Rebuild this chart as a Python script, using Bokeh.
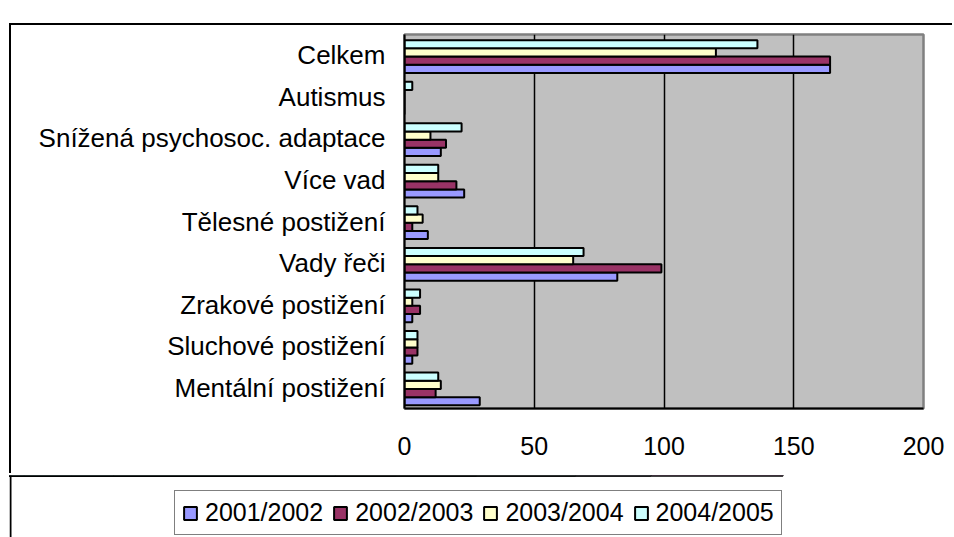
from bokeh.plotting import figure
from bokeh.layouts import column
from bokeh.models import (ColumnDataSource, FactorRange, FixedTicker, Legend,
                          LegendItem, Range1d, BoxAnnotation)
from bokeh.transform import dodge
from bokeh.embed import file_html
from bokeh.resources import INLINE

categories = ["Mentální postižení", "Sluchové postižení", "Zrakové postižení",
              "Vady řeči", "Tělesné postižení", "Více vad",
              "Snížená psychosoc. adaptace", "Autismus", "Celkem"]
years = ["2001/2002", "2002/2003", "2003/2004", "2004/2005"]
v2001 = [29, 3, 3, 82, 9, 23, 14, 0, 164]
v2002 = [12, 5, 6, 99, 3, 20, 16, 0, 164]
v2003 = [14, 5, 3, 65, 7, 13, 10, 0, 120]
v2004 = [13, 5, 6, 69, 5, 13, 22, 3, 136]
x_ticks = [0, 50, 100, 150, 200]

colors = ["#9999FF", "#993366", "#FFFFCC", "#CCFFFF"]
series = ["s0", "s1", "s2", "s3"]
FONT = "Liberation Sans"

src = ColumnDataSource(dict(cat=categories, s0=v2001, s1=v2002, s2=v2003, s3=v2004))

# ---- main chart ----
p = figure(width=943, height=450,
           y_range=FactorRange(factors=categories, range_padding=0),
           x_range=Range1d(0, 200),
           output_backend="svg", toolbar_location=None,
           min_border_left=393, min_border_right=31,
           min_border_top=9, min_border_bottom=67)
p.frame_align = False
# outer chart border (left and top edges) drawn as a CSS shadow
p.styles = {"box-shadow": "-2px -2px 0px 0px black"}

p.background_fill_color = "#C0C0C0"
p.border_fill_color = "white"
p.outline_line_color = "#808080"
p.outline_line_width = 2.5

bar_h = 0.197
center = -0.03
offsets = [center + k * bar_h for k in (-1.5, -0.5, 0.5, 1.5)]

for i, col in enumerate(series):
    p.hbar(y=dodge("cat", offsets[i], range=p.y_range), left=0, right=col,
           height=bar_h, fill_color=colors[i], line_color="black",
           line_width=2, source=src)

p.xaxis.ticker = FixedTicker(ticks=x_ticks)
for ax in (p.xaxis, p.yaxis):
    ax.major_tick_line_color = None
    ax.minor_tick_line_color = None
    ax.axis_line_color = "black"
    ax.axis_line_width = 2
    ax.major_label_text_font = FONT
    ax.major_label_text_color = "black"
p.xaxis.major_label_text_font_size = "25px"
p.yaxis.major_label_text_font_size = "26px"
p.xaxis.major_label_standoff = 22
p.yaxis.major_label_standoff = 13

p.xgrid.ticker = FixedTicker(ticks=[50, 100, 150])
p.xgrid.grid_line_color = "black"
p.xgrid.grid_line_width = 1.5
p.ygrid.grid_line_color = None

# ---- legend strip below the chart (its own frame spans the whole strip) ----
lg = figure(width=945, height=62, x_range=Range1d(0, 200), y_range=Range1d(0, 1),
            output_backend="svg", toolbar_location=None,
            x_axis_location=None, y_axis_location=None, min_border=0)
lg.frame_align = False
lg.styles = {"margin-left": "-2px"}
lg.background_fill_color = "white"
lg.border_fill_color = "white"
lg.outline_line_color = None
lg.grid.visible = False

# lower part of the outer chart border's left edge
lg.add_layout(BoxAnnotation(left=0, right=2, top=0, bottom=62,
                            left_units="canvas", right_units="canvas",
                            top_units="canvas", bottom_units="canvas",
                            fill_color="black", fill_alpha=1, line_color=None))

items = []
for i, col in enumerate(series):
    # same series, placed above this strip's y range: only the legend swatch shows
    r = lg.hbar(y=4, left=0, right=col, height=bar_h, fill_color=colors[i],
                line_color="black", line_width=2, source=src)
    items.append(LegendItem(label=years[i], renderers=[r]))

legend = Legend(items=items, orientation="horizontal", location=(165, 2),
                glyph_width=16, glyph_height=16, label_standoff=7, spacing=9,
                padding=7, margin=0,
                label_text_font=FONT, label_text_font_size="25px",
                label_text_color="black",
                border_line_color="black", border_line_width=1.5,
                background_fill_color="white", background_fill_alpha=1)
lg.add_layout(legend)

layout = column(p, lg, spacing=0,
                styles={"margin-left": "11px", "margin-top": "25px"})

open("out.html", "w").write(file_html(layout, INLINE))
